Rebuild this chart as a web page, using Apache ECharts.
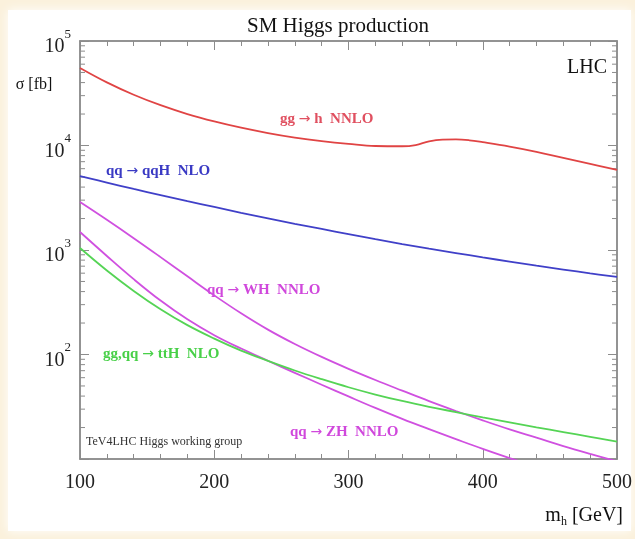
<!DOCTYPE html>
<html>
<head>
<meta charset="utf-8">
<script src="https://cdn.jsdelivr.net/npm/echarts@6/dist/echarts.min.js"></script>
<style>
  html, body { margin: 0; padding: 0; background: #fbf1dc; }
  #chart { width: 635px; height: 539px; }
</style>
</head>
<body>
<div id="chart"></div>
<script>
// m_h grid [GeV]
const masses = [100, 120, 140, 160, 180, 200, 220, 240, 260, 280, 300, 320, 340, 360, 380, 400, 420, 440, 460, 480, 500];
// gg -> h has a bump at the tt threshold, read on a finer grid
const ggMasses = [100, 120, 140, 160, 180, 200, 220, 240, 260, 280, 300, 320, 340, 350, 360, 370, 380, 390, 400, 420, 440, 460, 480, 500];
const ggH = [55200, 40200, 30600, 24300, 20000, 17000, 14800, 13150, 11900, 11000, 10350, 9890, 9840, 10100, 10960, 11380, 11430, 11220, 10760, 9770, 8710, 7620, 6670, 5830];
// sigma [fb]
const qqH = [5100, 4420, 3840, 3350, 2930, 2580, 2270, 2010, 1780, 1590, 1420, 1270, 1140, 1030, 935, 850, 775, 708, 650, 598, 552];
const WH = [2877, 1945, 1297, 855, 560, 368, 248, 173, 126, 94.8, 72.9, 57.0, 45.1, 35.8, 28.8, 23.4, 19.2, 16.0, 13.3, 11.2, 9.5];
const ZH = [1486, 877, 526, 328, 217, 153, 114, 87.1, 66.8, 51.4, 39.7, 30.8, 24.2, 19.3, 15.5, 12.5, 10.2, 8.4, 6.9, 5.6, 4.6];
const ttH = [1045, 637, 406, 271, 191, 142, 109, 86.9, 70.3, 58.1, 48.6, 41.4, 35.9, 31.6, 28.1, 25.0, 22.4, 20.1, 18.1, 16.3, 14.7];

const xTicks = [100, 200, 300, 400, 500];
const yDecades = [10, 100, 1000, 10000, 100000];

const serif = "'Liberation Serif', 'DejaVu Serif', serif";
const axisGrey = '#8c8c8c';

const pairs = (xs, ys) => xs.map((m, i) => [m, ys[i]]);

// log minor ticks 2..9 x 10^k
let minorVals = [];
yDecades.slice(0, 4).forEach(d => {
  for (let k = 2; k <= 9; k++) minorVals.push([100, d * k]);
});

let chart = echarts.init(document.getElementById('chart'));

function lineSeries(name, data, color) {
  return {
    name: name,
    type: 'line',
    data: data,
    smooth: 0.4,
    showSymbol: false,
    clip: true,
    lineStyle: { color: color, width: 1.8 },
    animation: false,
  };
}

// process label: "pre → post", arrow drawn in a font that has a full-size arrow
function procLabel(x, y, pre, post, color) {
  return {
    type: 'text', x: x, y: y,
    style: {
      text: '{t|' + pre + ' }{a|→}{t| ' + post + '}',
      textVerticalAlign: 'middle',
      rich: {
        t: { font: 'bold 15px ' + serif, fill: color, lineHeight: 18 },
        a: { font: '14px DejaVu Sans', fill: color, lineHeight: 18 },
      },
    },
  };
}

chart.setOption({
  backgroundColor: 'transparent',
  animation: false,
  grid: {
    left: 80, right: 17, top: 41, bottom: 80,
    show: true, borderColor: axisGrey, borderWidth: 1.5,
  },
  graphic: [
    {
      type: 'rect', z: -100, silent: true,
      shape: { x: 8, y: 10, width: 623, height: 521 },
      style: { fill: '#fff', shadowBlur: 10, shadowColor: '#fff' },
    },
    { type: 'text', x: 338, y: 26, style: { text: 'SM Higgs production', font: '21px ' + serif, fill: '#111', textAlign: 'center', textVerticalAlign: 'middle' } },
    { type: 'text', x: 34, y: 85, style: { text: 'σ [fb]', font: '16px ' + serif, fill: '#111', textAlign: 'center', textVerticalAlign: 'middle' } },
    { type: 'text', x: 607, y: 68, style: { text: 'LHC', font: '20px ' + serif, fill: '#111', textAlign: 'right', textVerticalAlign: 'middle' } },
    {
      type: 'text', x: 623, y: 516,
      style: {
        text: '{m|m}{h|h}{m| [GeV]}', textAlign: 'right', textVerticalAlign: 'middle',
        rich: {
          m: { font: '20px ' + serif, fill: '#111', lineHeight: 24 },
          h: { font: '12px ' + serif, fill: '#111', verticalAlign: 'bottom', lineHeight: 18 },
        },
      },
    },
    procLabel(280, 119, 'gg', 'h  NNLO', '#e05060'),
    procLabel(106, 171, 'qq', 'qqH  NLO', '#3a3ac4'),
    procLabel(207, 290, 'qq', 'WH  NNLO', '#d048dc'),
    procLabel(103, 354, 'gg,qq', 'ttH  NLO', '#48d048'),
    procLabel(290, 432, 'qq', 'ZH  NNLO', '#d048dc'),
    { type: 'text', x: 86, y: 442, style: { text: 'TeV4LHC Higgs working group', font: '12px ' + serif, fill: '#333', textVerticalAlign: 'middle' } },
  ],
  xAxis: [
    {
      type: 'value', min: 100, max: 500, interval: 100,
      axisLine: { lineStyle: { color: axisGrey, width: 1.5 } },
      axisTick: { inside: true, length: 9, lineStyle: { color: axisGrey } },
      minorTick: { show: true, splitNumber: 5, length: 5, lineStyle: { color: axisGrey } },
      splitLine: { show: false },
      axisLabel: {
        margin: 14, fontFamily: serif, fontSize: 20, color: '#222',
        formatter: v => xTicks.includes(v) ? String(v) : '',
      },
    },
    {
      type: 'value', min: 100, max: 500, interval: 100, position: 'top',
      axisLine: { lineStyle: { color: axisGrey, width: 1.5 } },
      axisTick: { inside: true, length: 9, lineStyle: { color: axisGrey } },
      minorTick: { show: true, splitNumber: 5, length: 5, lineStyle: { color: axisGrey } },
      splitLine: { show: false },
      axisLabel: { show: false },
    },
  ],
  yAxis: [
    {
      type: 'log', logBase: 10, min: 10, max: 100000,
      axisLine: { show: true, lineStyle: { color: axisGrey, width: 1.5 } },
      axisTick: { show: true, inside: true, length: 9, lineStyle: { color: axisGrey } },
      splitLine: { show: false },
      axisLabel: {
        margin: 9,
        padding: [3, 0, 0, 0],
        formatter: v => (v === 10 ? '' : '{b|10}{s|' + Math.round(Math.log10(v)) + '}'),
        rich: {
          b: { fontFamily: serif, fontSize: 20, color: '#222', lineHeight: 29, verticalAlign: 'bottom' },
          s: { fontFamily: serif, fontSize: 13, color: '#222', lineHeight: 13, verticalAlign: 'top' },
        },
      },
    },
    {
      type: 'log', logBase: 10, min: 10, max: 100000, position: 'right',
      axisLine: { show: true, lineStyle: { color: axisGrey, width: 1.5 } },
      axisTick: { show: true, inside: true, length: 9, lineStyle: { color: axisGrey } },
      splitLine: { show: false },
      axisLabel: { show: false },
    },
  ],
  series: [
    {
      type: 'custom',
      silent: true,
      data: minorVals,
      encode: { x: 0, y: 1 },
      renderItem: (params, api) => {
        const l = api.coord([100, api.value(1)]);
        const r = api.coord([500, api.value(1)]);
        return {
          type: 'group',
          children: [
            { type: 'line', shape: { x1: l[0], y1: l[1], x2: l[0] + 5, y2: l[1] }, style: { stroke: axisGrey, lineWidth: 1 } },
            { type: 'line', shape: { x1: r[0] - 5, y1: r[1], x2: r[0], y2: r[1] }, style: { stroke: axisGrey, lineWidth: 1 } },
          ],
        };
      },
    },
    lineSeries('gg → h', pairs(ggMasses, ggH), '#e04444'),
    lineSeries('qq → qqH', pairs(masses, qqH), '#4040c8'),
    lineSeries('qq → WH', pairs(masses, WH), '#d050e0'),
    lineSeries('qq → ZH', pairs(masses, ZH), '#d050e0'),
    lineSeries('gg,qq → ttH', pairs(masses, ttH), '#55d455'),
  ],
});
</script>
</body>
</html>
